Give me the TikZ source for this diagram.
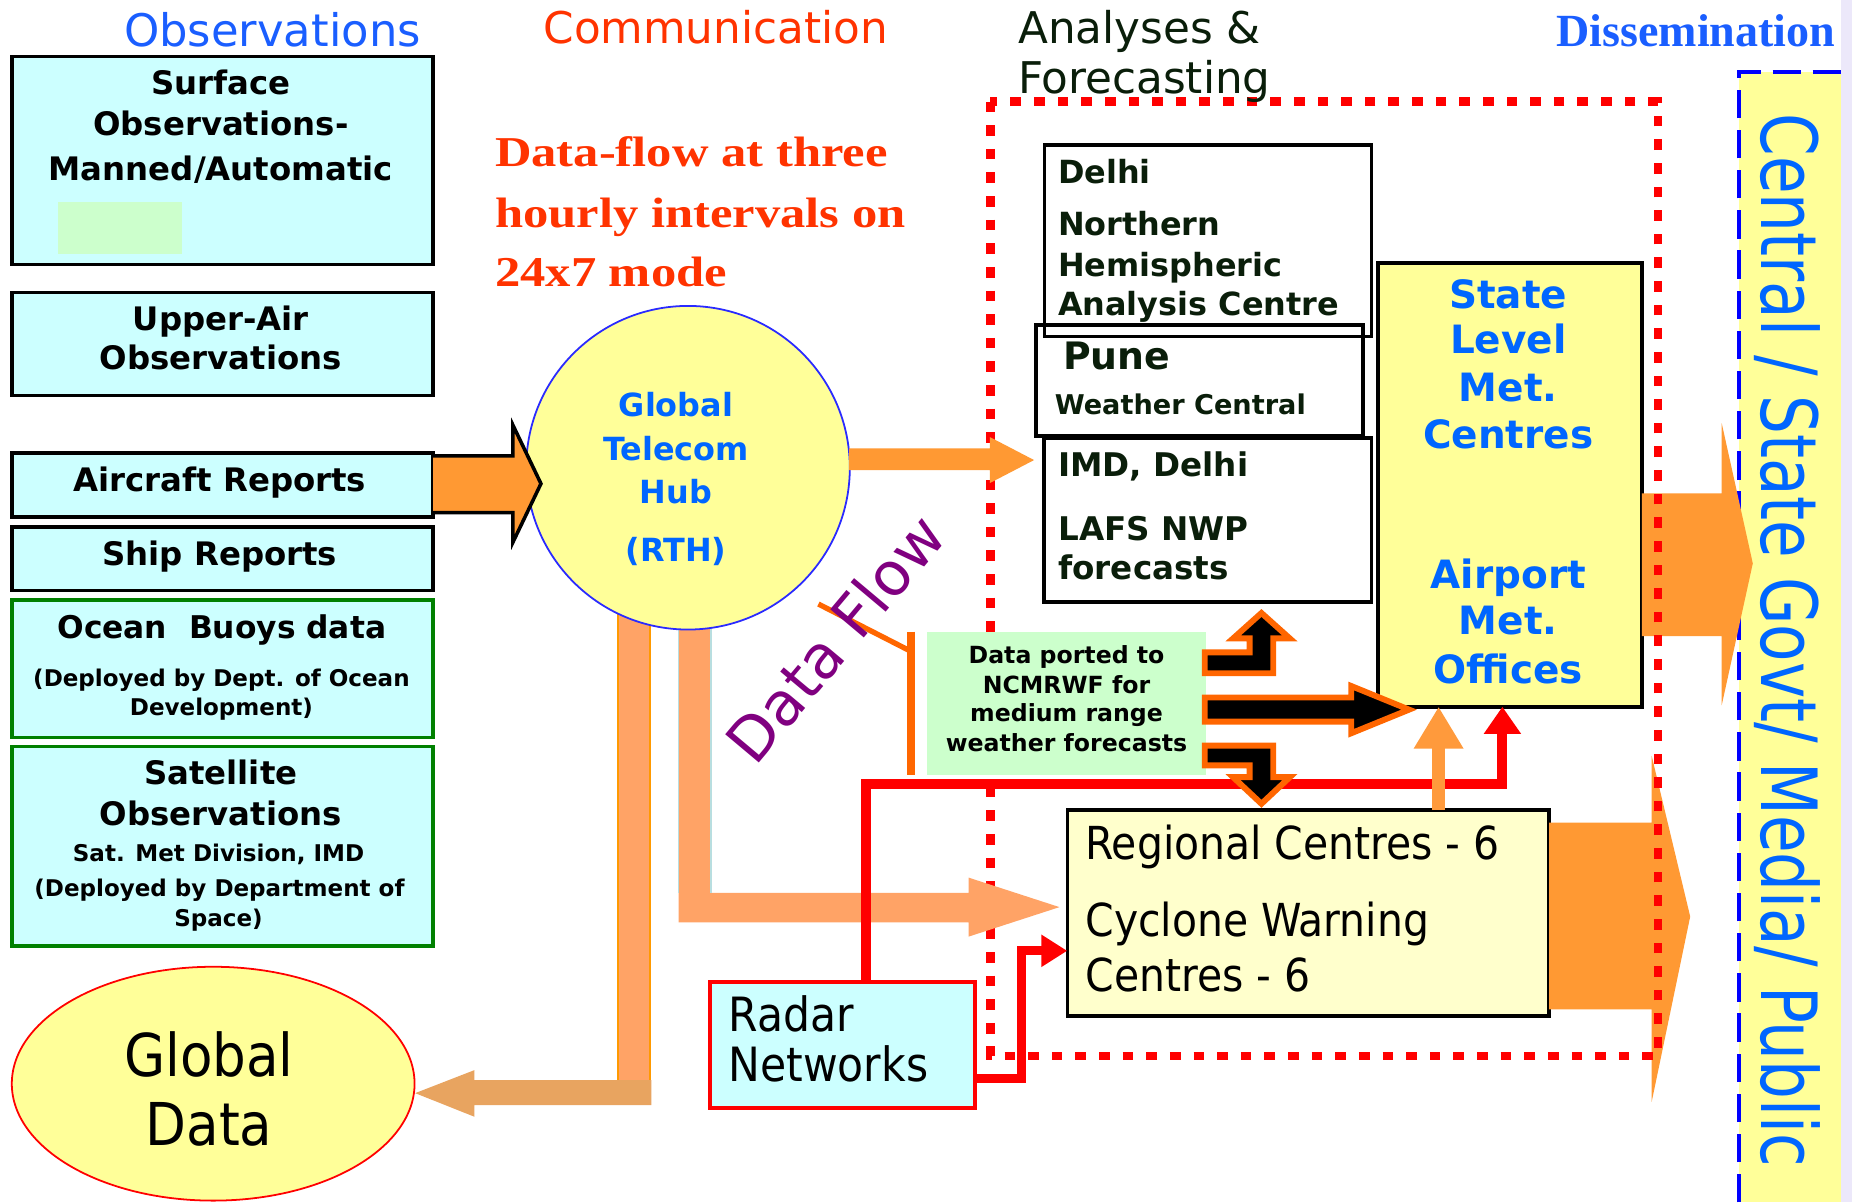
\documentclass[tikz,border=0pt]{standalone}
\usepackage{graphicx}
\usepackage{fontspec}
\setmainfont{DejaVu Sans}
\newfontfamily\cnd{DejaVu Sans Condensed}
\newfontfamily\tms{Liberation Serif}
\usetikzlibrary{arrows.meta,shapes.geometric}
\newcommand{\fz}[1]{\fontsize{#1}{#1}\selectfont}
\definecolor{cyanfill}{HTML}{CCFFFF}
\definecolor{yellowfill}{HTML}{FFFF99}
\definecolor{lightyellow}{HTML}{FFFFCC}
\definecolor{greenfill}{HTML}{CCFFCC}
\definecolor{orangeA}{HTML}{FF9933}
\definecolor{orangeL}{HTML}{FF9A3C}
\definecolor{salmon}{HTML}{FFA366}
\definecolor{tanc}{HTML}{E8A460}
\definecolor{barborder}{HTML}{FF9900}
\definecolor{lblue}{HTML}{B8DEE0}
\definecolor{commred}{HTML}{FF3300}
\definecolor{titleblue}{HTML}{1A5EFF}
\definecolor{hubblue}{HTML}{0066FF}
\definecolor{hubborder}{HTML}{2A2AFF}
\definecolor{purp}{HTML}{800080}
\definecolor{orangeline}{HTML}{FF6600}
\definecolor{lavender}{HTML}{ECE8FA}
\definecolor{dgreen}{HTML}{008000}
\definecolor{darktext}{HTML}{0A1E0A}
\definecolor{dblue}{HTML}{0000FF}
\begin{document}
\begin{tikzpicture}[x=1pt,y=-1pt,
  tx/.style={inner sep=0pt,outer sep=0pt,anchor=base},
  txl/.style={inner sep=0pt,outer sep=0pt,anchor=base west},
  obsbox/.style={draw=black,line width=3pt,fill=cyanfill,inner sep=0pt,outer sep=0pt,minimum width=356.6pt},
  gbox/.style={obsbox,draw=dgreen},
  fbox/.style={draw=black,line width=3pt,inner sep=0pt,outer sep=0pt},
  redline/.style={draw=red,line width=8.5pt,line join=miter},
  blackarrow/.style={fill=black,draw=orangeline,line width=5pt,line join=miter},
  bt/.style={tx,font=\bfseries\fz{27.4}},
  st/.style={tx,font=\bfseries\fz{19.5}}]
\useasboundingbox (0,0) rectangle (1568,1018);
\fill[white] (0,0) rectangle (1568,1018);

% ---------- dissemination column ----------
\fill[lavender] (1559,0) rectangle (1568,1018);
\node[fill=yellowfill,minimum width=87pt,minimum height=957.3pt,inner sep=0pt,outer sep=0pt] (dissem) at (1515.5,539.35) {};
\draw[dblue,line width=3.4pt,dash pattern=on 24pt off 10pt] (dissem.south west) -- (dissem.north west) -- (dissem.north east);
\node[txl,rotate=-90,text=hubblue] (dtext) at (1491.6,96) {\cnd\fz{57.6}\scalebox{1}[1.14]{Central / State Govt/ Media/ Public}};

% ---------- boxes needing anchors ----------
\node[fbox,fill=yellowfill,line width=3.5pt,minimum width=223.2pt,minimum height=375.3pt] (state) at (1278.4,410.65) {};
\node[fbox,fill=lightyellow,minimum width=407.9pt,minimum height=174.2pt] (regional) at (1107.55,772.9) {};

% dissemination arrows
\fill[orangeA] (state.east |- 0,417.7) -- (1457.7,417.7) -- (1457.7,358.4) -- (1484,477) -- (1457.7,597) -- (1457.7,538.5) -- (state.east |- 0,538.5) -- cycle;
\fill[orangeA] (regional.east |- 0,696.5) -- (1398.4,696.5) -- (1398.4,640) -- (1431,776) -- (1398.4,932.8) -- (1398.4,854.5) -- (regional.east |- 0,854.5) -- cycle;

% ---------- analyses dotted frame ----------
\draw[red,line width=7pt,dash pattern=on 9pt off 11pt] (838.5,86) rectangle (1403.5,894);

% ---------- hub bars ----------
\fill[salmon] (523,500) rectangle (550.5,935.6);
\draw[barborder,line width=2pt] (523,500) -- (523,914.5) (550.5,500) -- (550.5,914.5);
\fill[tanc] (551.5,914.5) -- (401.7,914.5) -- (401.7,906) -- (351.5,925.5) -- (401.7,945.5) -- (401.7,935.6) -- (551.5,935.6) -- cycle;
\fill[salmon] (574.5,500) -- (601.7,500) -- (601.7,756) -- (820,756) -- (820,743) -- (897,768) -- (820,793) -- (820,781) -- (574.5,781) -- cycle;
\draw[lblue,line width=1.5pt] (574.5,500) -- (574.5,756) (601.7,500) -- (601.7,756);

% ---------- hub ----------
\node[circle,draw=hubborder,line width=1.5pt,fill=yellowfill,minimum size=274pt,inner sep=0pt,outer sep=0pt] (hub) at (582.5,396) {};
\node[tx,text=hubblue,font=\bfseries\fz{27}] (hub1) at (572.3,352.8) {Global};
\node[tx,text=hubblue,font=\bfseries\fz{27}] (hub2) at (572.3,389.5) {Telecom};
\node[tx,text=hubblue,font=\bfseries\fz{27}] (hub3) at (572.3,426) {Hub};
\node[tx,text=hubblue,font=\bfseries\fz{27}] (hub4) at (572.3,475.5) {(RTH)};

% hub -> IMD arrow
\fill[orangeA] (719,379.6) -- (838,379.6) -- (838,370) -- (875.5,389.5) -- (838,409) -- (838,398) -- (719,398) -- cycle;

% ---------- titles ----------
\node[tx,text=titleblue,font=\fz{38}] (tObs) at (230.7,39.5) {Observations};
\node[tx,text=commred,font=\fz{37}] (tCom) at (606,36.7) {Communication};
\node[txl,text=darktext,font=\fz{37}] (tAna) at (862,36.7) {Analyses \&};
\node[txl,text=darktext,font=\fz{37}] (tFor) at (862,79) {Forecasting};
\node[tx,text=titleblue] (tDis) at (1435.8,39.5) {\tms\bfseries\fz{39}Dissemination};

\node[txl,text=commred] (df1) at (419.2,141) {\tms\bfseries\fz{36}\scalebox{1.19}[1]{Data-flow at three}};
\node[txl,text=commred] (df2) at (419.2,193) {\tms\bfseries\fz{36}\scalebox{1.19}[1]{hourly intervals on}};
\node[txl,text=commred] (df3) at (419.2,242.7) {\tms\bfseries\fz{36}\scalebox{1.19}[1]{24x7 mode}};

% ---------- observation boxes ----------
\node[obsbox,minimum height=175.8pt] (surf) at (188.3,135.9) {};
\fill[greenfill] (48.7,170.8) rectangle (154,215);
\node[bt] (surf1) at (187,80.4) {Surface};
\node[bt] (surf2) at (187,114.3) {Observations-};
\node[bt] (surf3) at (187,152.4) {Manned/Automatic};

\node[obsbox,minimum height=87.5pt] (upper) at (188.3,291.25) {};
\node[bt] (upper1) at (187,280) {Upper-Air};
\node[bt] (upper2) at (187,313) {Observations};

\node[obsbox,minimum height=54.2pt] (air) at (188.3,410.4) {};
\node[bt] (air1) at (186,416.3) {Aircraft Reports};

\node[obsbox,minimum height=54pt] (ship) at (188.3,473) {};
\node[bt] (ship1) at (186,478.4) {Ship Reports};

\node[gbox,minimum height=116.5pt] (ocean) at (188.3,566.25) {};
\node[tx,font=\bfseries\fz{26.5}] (ocean1) at (187.8,540.4) {Ocean\ \ Buoys data};
\node[st] (ocean2) at (187.5,581.4) {(Deployed by Dept. of Ocean};
\node[st] (ocean3) at (187.5,605.4) {Development)};

\node[gbox,minimum height=168.7pt] (sat) at (188.3,716.35) {};
\node[bt] (sat1) at (187,664.6) {Satellite};
\node[bt] (sat2) at (187,698.5) {Observations};
\node[st] (sat3) at (185,729.6) {Sat. Met Division, IMD};
\node[st] (sat4) at (185.8,759.2) {(Deployed by Department of};
\node[st] (sat5) at (185,784) {Space)};

% aircraft -> hub arrow
\filldraw[fill=orangeA,draw=black,line width=3pt,line join=miter] (air.east |- 0,386) -- (434.3,386) -- (434.3,360) -- (458,409.5) -- (434.3,459) -- (434.3,434) -- (air.east |- 0,434);

% global data
\node[ellipse,draw=red,line width=1.5pt,fill=yellowfill,minimum width=341pt,minimum height=198pt,inner sep=0pt,outer sep=0pt] (gdata) at (180.5,917.5) {};
\node[tx] (gd1) at (177,911.6) {\cnd\fz{50}Global};
\node[tx] (gd2) at (177,969.4) {\cnd\fz{50}Data};

% ---------- analyses boxes ----------
\node[fbox,minimum width=276.5pt,minimum height=162.2pt] (delhi) at (1022.75,203.9) {};
\node[fbox,minimum width=277pt,minimum height=94pt] (pune) at (1015.5,322) {};
\node[fbox,minimum width=277pt,minimum height=138.5pt] (imd) at (1022.5,440.25) {};
\node[txl,font=\bfseries\fz{27},text=darktext] (de1) at (895.8,155) {Delhi};
\node[txl,font=\bfseries\fz{27},text=darktext] (de2) at (895.8,199) {Northern};
\node[txl,font=\bfseries\fz{27},text=darktext] (de3) at (895.8,233.7) {Hemispheric};
\node[txl,font=\bfseries\fz{27},text=darktext] (de4) at (895.8,266.7) {Analysis Centre};
\node[txl,font=\bfseries\fz{32},text=darktext] (pu1) at (900,313) {Pune};
\node[txl,font=\bfseries\fz{23},text=darktext] (pu2) at (893,351) {Weather Central};
\node[txl,font=\bfseries\fz{27.6},text=darktext] (im1) at (896,403.6) {IMD, Delhi};
\node[txl,font=\bfseries\fz{27.6},text=darktext] (im2) at (896,457.2) {LAFS NWP};
\node[txl,font=\bfseries\fz{27.6},text=darktext] (im3) at (896,491) {forecasts};

% state text
\foreach \t/\yy/\nm in {State/261/s1,Level/299.5/s2,Met./339.5/s3,Centres/379.6/s4,Airport/498/s5,Met./537.6/s6,Offices/578.5/s7}
  \node[tx,font=\bfseries\fz{33},text=hubblue] (\nm) at (1277,\yy) {\t};

% regional text
\node[txl] (rg1) at (919,728) {\cnd\fz{38.5}Regional Centres - 6};
\node[txl] (rg2) at (919,793) {\cnd\fz{38.5}Cyclone Warning};
\node[txl] (rg3) at (919,839.6) {\cnd\fz{38.5}Centres - 6};

% data ported box
\node[fill=greenfill,minimum width=236.4pt,minimum height=121pt,inner sep=0pt,outer sep=0pt] (ported) at (902.8,595.5) {};
\node[tx,font=\bfseries\fz{20}] (po1) at (903,561.6) {Data ported to};
\node[tx,font=\bfseries\fz{20}] (po2) at (903,587) {NCMRWF for};
\node[tx,font=\bfseries\fz{20}] (po3) at (903,611) {medium range};
\node[tx,font=\bfseries\fz{20}] (po4) at (903,636.4) {weather forecasts};

% orange marks and Data Flow
\draw[orangeline,line width=6.5pt] (771.5,534.8) -- (771.5,656.2);
\draw[orangeline,line width=4.5pt] (692.9,511.4) -- (769,550.3);
\node[txl,rotate=50,text=purp,font=\fz{51}] (dflow) at (640,650) {Data Flow};

% radar box
\node[draw=red,line width=3pt,fill=cyanfill,minimum width=224.5pt,minimum height=106.5pt,inner sep=0pt,outer sep=0pt] (radar) at (713.25,884.75) {};
\node[txl] (ra1) at (616.8,873.5) {\cnd\fz{40}Radar};
\node[txl] (ra2) at (616.8,915.8) {\cnd\fz{40}Networks};

% ---------- connectors ----------
\coordinate (rc1) at (733,664);
\coordinate (rc2) at (1272,664);
\draw[redline,-{Triangle[width=30pt,length=23pt]}] (radar.north -| rc1) -- (rc1) -- (rc2) -- (state.south -| rc2);
\coordinate (rd1) at (865,912.8);
\coordinate (rd2) at (865,805);
\draw[redline,line width=7.5pt,-{Triangle[width=26pt,length=22pt]}] (radar.east |- rd1) -- (rd1) -- (rd2) -- (regional.west |- rd2);
\coordinate (oa) at (1218,0);
\draw[orangeL,line width=11.5pt,-{Triangle[width=39.6pt,length=35.5pt]}] (regional.north -| oa) -- (state.south -| oa);

% black arrows from data ported box
\filldraw[blackarrow] (1020,552.3) -- (1058,552.3) -- (1058,540.5) -- (1044,540.5) -- (1068,519) -- (1092,540.5) -- (1078,540.5) -- (1078,570) -- (1020,570) -- cycle;
\filldraw[blackarrow] (1020,590.5) -- (1144,590.5) -- (1144,580.8) -- (1193,600.8) -- (1144,620.8) -- (1144,611) -- (1020,611) -- cycle;
\filldraw[blackarrow] (1020,631.3) -- (1078,631.3) -- (1078,658) -- (1092,658) -- (1068,680.5) -- (1044,658) -- (1058,658) -- (1058,648) -- (1020,648) -- cycle;
\end{tikzpicture}
\end{document}
